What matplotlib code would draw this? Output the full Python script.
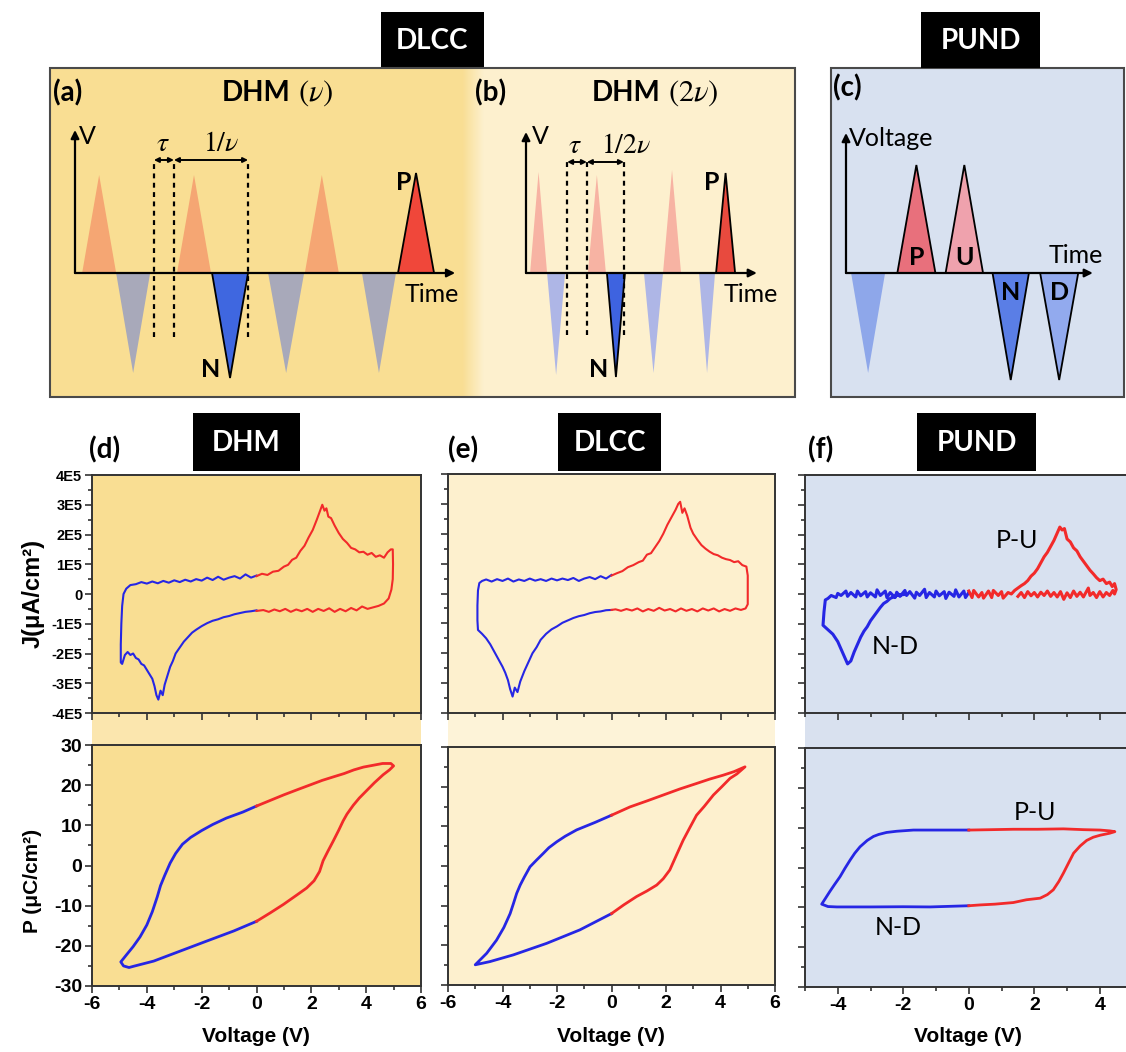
import matplotlib
matplotlib.use("Agg")
import matplotlib.pyplot as plt
import numpy as np
from matplotlib.patches import Rectangle, Polygon
from matplotlib.ticker import MultipleLocator

plt.rcParams["mathtext.fontset"] = "stix"
plt.rcParams["font.family"] = ["Liberation Sans", "DejaVu Sans"]
plt.rcParams["axes.unicode_minus"] = False

W, H = 1126, 1052
LBL = "Lato"

# ---- colours -------------------------------------------------------------
YEL = "#F9DE93"
YEL_BAND = "#FBE6AE"
CREAM = "#FDF0CE"
CREAM_BAND = "#FDF3D8"
BLUEBG = "#D8E1F0"
BLUE_BAND = "#D9E1EF"
BLUE = "#2626E4"
RED = "#F22A2A"

# ---- pulse schematics: start / width (pulse widths), peak (amplitude) ----
A_START = [0.21, 1.21, 3.00, 4.03, 5.68, 6.76, 8.44, 9.50]
A_WIDTH = [1.00, 1.00, 1.00, 1.06, 1.06, 1.00, 1.00, 1.06]
A_PEAK = [0.98, -1.00, 0.98, -1.05, -1.00, 0.98, -1.00, 1.00]
A_KIND = ["pos", "neg", "pos", "N", "neg", "pos", "neg", "P"]
A_DASH = [2.32, 2.91, 5.09]

B_START = [0.12, 0.62, 1.82, 2.38, 3.47, 4.03, 5.09, 5.59]
B_WIDTH = [0.50, 0.53, 0.53, 0.53, 0.56, 0.53, 0.47, 0.56]
B_PEAK = [1.01, -1.02, 0.98, -1.04, -1.00, 1.03, -1.00, 1.00]
B_KIND = ["pos", "neg", "pos", "N", "neg", "pos", "neg", "P"]
B_DASH = [1.21, 1.79, 2.88]

C_START = [0.15, 1.51, 2.93, 4.31, 5.71]
C_WIDTH = [1.00, 1.12, 1.10, 1.07, 1.12]
C_PEAK = [-1.00, 1.08, 1.08, -1.07, -1.07]
C_KIND = ["bg", "P", "U", "N", "D"]

A_COLORS = {"pos": "#F5A673", "neg": "#A8A9BA", "N": "#3F67E0", "P": "#F0473A"}
B_COLORS = {"pos": "#F7B3A3", "neg": "#AEB6E6", "N": "#3E63E0", "P": "#E84A3E"}
C_COLORS = {"bg": "#8EA7EA", "P": "#E8707C", "U": "#EFA2AD", "N": "#5A7EE6", "D": "#92AAEE"}

# ---- measured loops: (voltage V, J in 1E5 uA/cm2) / (voltage V, P uC/cm2) ----
D_J_BLUE = [(0.0, 0.62), (-0.2, 0.55), (-0.4, 0.66), (-0.6, 0.52), (-0.8, 0.60), (-1.0, 0.55),
            (-1.2, 0.48), (-1.4, 0.58), (-1.6, 0.47), (-1.8, 0.55), (-2.0, 0.45), (-2.2, 0.50),
            (-2.4, 0.42), (-2.6, 0.48), (-2.8, 0.40), (-3.0, 0.46), (-3.2, 0.38), (-3.4, 0.44),
            (-3.6, 0.36), (-3.8, 0.42), (-4.0, 0.35), (-4.2, 0.40), (-4.4, 0.33), (-4.6, 0.30),
            (-4.75, 0.18), (-4.85, 0.0), (-4.9, -0.4), (-4.93, -1.0), (-4.95, -1.7), (-4.95, -2.3),
            (-4.9, -2.35), (-4.8, -2.05), (-4.7, -1.95), (-4.6, -2.05), (-4.5, -2.0), (-4.4, -2.15),
            (-4.3, -2.2), (-4.2, -2.35), (-4.1, -2.4), (-4.0, -2.55), (-3.9, -2.7), (-3.8, -2.85),
            (-3.72, -3.1), (-3.65, -3.4), (-3.58, -3.55), (-3.5, -3.25), (-3.42, -3.4), (-3.35, -3.05),
            (-3.25, -2.75), (-3.15, -2.45), (-3.05, -2.25), (-2.95, -2.0), (-2.8, -1.8), (-2.65, -1.6),
            (-2.5, -1.45), (-2.35, -1.3), (-2.2, -1.2), (-2.0, -1.08), (-1.8, -0.98), (-1.6, -0.9),
            (-1.4, -0.85), (-1.2, -0.78), (-1.0, -0.74), (-0.8, -0.68), (-0.6, -0.64), (-0.4, -0.6),
            (-0.2, -0.58), (0.0, -0.55)]
D_J_RED = [(0.0, 0.60), (0.2, 0.68), (0.4, 0.64), (0.6, 0.75), (0.8, 0.78), (1.0, 0.92),
           (1.15, 0.98), (1.3, 1.15), (1.45, 1.22), (1.6, 1.45), (1.75, 1.62), (1.9, 1.9),
           (2.05, 2.15), (2.2, 2.5), (2.3, 2.75), (2.4, 3.0), (2.48, 2.8), (2.55, 2.88),
           (2.62, 2.6), (2.72, 2.55), (2.85, 2.3), (3.0, 2.05), (3.15, 1.85), (3.3, 1.72),
           (3.45, 1.55), (3.6, 1.5), (3.75, 1.4), (3.9, 1.42), (4.05, 1.32), (4.2, 1.38),
           (4.35, 1.25), (4.5, 1.3), (4.65, 1.22), (4.78, 1.4), (4.9, 1.5), (4.97, 1.5),
           (4.98, 1.0), (4.97, 0.5), (4.92, 0.15), (4.82, -0.15), (4.65, -0.32), (4.45, -0.4),
           (4.25, -0.45), (4.05, -0.5), (3.85, -0.42), (3.65, -0.55), (3.45, -0.47), (3.25, -0.58),
           (3.05, -0.5), (2.85, -0.6), (2.65, -0.48), (2.45, -0.57), (2.25, -0.5), (2.05, -0.6),
           (1.85, -0.5), (1.65, -0.58), (1.45, -0.52), (1.25, -0.6), (1.05, -0.5), (0.85, -0.58),
           (0.65, -0.52), (0.45, -0.6), (0.25, -0.54), (0.0, -0.57)]

E_J_BLUE = [(0.0, 0.62), (-0.2, 0.5), (-0.4, 0.58), (-0.6, 0.48), (-0.8, 0.55), (-1.0, 0.5),
            (-1.2, 0.42), (-1.4, 0.52), (-1.6, 0.45), (-1.8, 0.5), (-2.0, 0.44), (-2.2, 0.5),
            (-2.4, 0.42), (-2.6, 0.48), (-2.8, 0.43), (-3.0, 0.5), (-3.2, 0.42), (-3.4, 0.47),
            (-3.6, 0.4), (-3.8, 0.5), (-4.0, 0.42), (-4.2, 0.48), (-4.4, 0.4), (-4.6, 0.47),
            (-4.75, 0.42), (-4.85, 0.35), (-4.9, 0.1), (-4.92, -0.4), (-4.92, -0.9), (-4.9, -1.22),
            (-4.75, -1.35), (-4.6, -1.5), (-4.45, -1.7), (-4.3, -1.95), (-4.15, -2.2), (-4.0, -2.45),
            (-3.9, -2.65), (-3.8, -2.9), (-3.72, -3.2), (-3.63, -3.45), (-3.55, -3.15), (-3.45, -3.3),
            (-3.35, -2.95), (-3.2, -2.6), (-3.05, -2.3), (-2.9, -2.0), (-2.75, -1.8), (-2.6, -1.55),
            (-2.4, -1.35), (-2.2, -1.2), (-2.0, -1.1), (-1.8, -0.98), (-1.6, -0.9), (-1.4, -0.82),
            (-1.2, -0.76), (-1.0, -0.72), (-0.8, -0.66), (-0.6, -0.62), (-0.4, -0.6), (-0.2, -0.56),
            (0.0, -0.55)]
E_J_RED = [(0.0, 0.6), (0.2, 0.68), (0.4, 0.75), (0.6, 0.88), (0.8, 0.95), (1.0, 1.05),
           (1.15, 1.1), (1.3, 1.3), (1.45, 1.35), (1.6, 1.55), (1.75, 1.75), (1.9, 2.0),
           (2.05, 2.3), (2.2, 2.55), (2.35, 2.8), (2.45, 3.0), (2.52, 3.07), (2.6, 2.7),
           (2.68, 2.85), (2.78, 2.6), (2.9, 2.2), (3.0, 2.0), (3.15, 1.8), (3.3, 1.62),
           (3.45, 1.5), (3.6, 1.4), (3.75, 1.32), (3.9, 1.28), (4.05, 1.2), (4.2, 1.15),
           (4.35, 1.12), (4.5, 1.05), (4.65, 1.08), (4.8, 0.95), (4.95, 0.9), (5.0, 0.6),
           (5.0, 0.0), (5.0, -0.36), (4.92, -0.5), (4.75, -0.55), (4.55, -0.5), (4.35, -0.58),
           (4.15, -0.52), (3.95, -0.6), (3.75, -0.5), (3.55, -0.57), (3.35, -0.5), (3.15, -0.6),
           (2.95, -0.52), (2.75, -0.58), (2.55, -0.5), (2.35, -0.6), (2.15, -0.52), (1.95, -0.57),
           (1.75, -0.48), (1.55, -0.58), (1.35, -0.52), (1.15, -0.6), (0.95, -0.5), (0.75, -0.57),
           (0.55, -0.52), (0.35, -0.58), (0.15, -0.53), (0.0, -0.55)]

F_J_BLUE = [(0.0, 0.05), (-0.1, -0.12), (-0.15, 0.1), (-0.3, -0.1), (-0.4, 0.14), (-0.45, -0.08),
            (-0.6, 0.06), (-0.7, -0.15), (-0.75, 0.08), (-0.9, -0.06), (-1.0, 0.1), (-1.05, -0.1),
            (-1.2, 0.05), (-1.3, -0.12), (-1.35, 0.16), (-1.5, -0.05), (-1.6, 0.06), (-1.65, -0.14),
            (-1.8, 0.08), (-1.9, -0.05), (-1.95, 0.12), (-2.1, -0.08), (-2.2, 0.06), (-2.25, -0.12),
            (-2.4, 0.05), (-2.5, -0.12), (-2.55, 0.1), (-2.7, -0.05), (-2.8, 0.14), (-2.85, -0.1),
            (-3.0, 0.04), (-3.1, -0.1), (-3.15, 0.08), (-3.3, -0.06), (-3.4, 0.1), (-3.45, -0.1),
            (-3.6, 0.05), (-3.7, -0.08), (-3.75, 0.1), (-3.9, -0.05), (-4.0, 0.02), (-4.05, -0.12),
            (-4.2, -0.05), (-4.3, -0.15), (-4.38, -0.2), (-4.42, -0.6), (-4.45, -1.05), (-4.3, -1.2),
            (-4.15, -1.35), (-4.0, -1.6), (-3.9, -1.85), (-3.8, -2.1), (-3.7, -2.35), (-3.6, -2.25),
            (-3.5, -1.95), (-3.4, -1.7), (-3.3, -1.45), (-3.2, -1.25), (-3.1, -1.1), (-3.0, -0.9),
            (-2.9, -0.75), (-2.8, -0.6), (-2.7, -0.45), (-2.6, -0.32), (-2.5, -0.25), (-2.4, -0.15),
            (-2.3, -0.1), (-2.2, -0.05), (-2.0, -0.02)]
F_J_RED = [(0.0, 0.1), (0.1, -0.12), (0.15, 0.12), (0.3, -0.1), (0.4, 0.05), (0.45, -0.14),
           (0.6, 0.1), (0.7, -0.12), (0.75, 0.12), (0.9, -0.05), (1.0, 0.08), (1.05, -0.14),
           (1.2, 0.05), (1.3, 0.0), (1.4, 0.12), (1.5, 0.2), (1.6, 0.28), (1.7, 0.35),
           (1.8, 0.45), (1.9, 0.6), (2.0, 0.7), (2.1, 0.85), (2.2, 1.05), (2.3, 1.25),
           (2.4, 1.4), (2.5, 1.6), (2.6, 1.8), (2.7, 2.05), (2.78, 2.25), (2.85, 2.15),
           (2.92, 2.2), (3.0, 1.85), (3.1, 1.75), (3.2, 1.55), (3.3, 1.45), (3.4, 1.25),
           (3.5, 1.1), (3.6, 0.95), (3.7, 0.8), (3.8, 0.68), (3.9, 0.55), (4.0, 0.45),
           (4.1, 0.5), (4.2, 0.35), (4.3, 0.4), (4.38, 0.25), (4.45, 0.35), (4.5, 0.15),
           (4.45, 0.0), (4.4, 0.12), (4.3, -0.05), (4.2, 0.05), (4.1, -0.1), (4.0, 0.08),
           (3.9, -0.12), (3.8, 0.05), (3.7, -0.05), (3.65, 0.2), (3.5, -0.1), (3.4, 0.06),
           (3.3, -0.08), (3.2, 0.1), (3.1, -0.12), (3.0, 0.04), (2.9, -0.18), (2.8, 0.08),
           (2.7, -0.1), (2.6, 0.05), (2.5, -0.08), (2.4, 0.1), (2.3, -0.05), (2.2, 0.06),
           (2.1, -0.1), (2.0, 0.05), (1.9, -0.06), (1.8, 0.08), (1.7, -0.12), (1.6, 0.05),
           (1.5, -0.08)]

D_P_BLUE = [(0.0, 14.8), (-0.5, 13.3), (-1.1, 11.8), (-1.6, 10.2), (-2.0, 8.7), (-2.4, 7.0),
            (-2.7, 5.3), (-2.95, 3.0), (-3.15, 0.6), (-3.35, -2.5), (-3.5, -5.0), (-3.62, -7.8),
            (-3.8, -11.5), (-4.0, -14.8), (-4.25, -17.8), (-4.5, -20.2), (-4.75, -22.3),
            (-4.95, -24.0), (-4.85, -25.0), (-4.65, -25.4), (-4.49, -25.1), (-3.75, -23.8),
            (-2.78, -21.3), (-1.81, -18.8), (-0.83, -16.3), (0.0, -13.9)]
D_P_RED = [(0.0, 14.8), (0.5, 16.2), (1.0, 17.6), (1.5, 18.9), (1.97, 20.1), (2.4, 21.2),
           (2.82, 22.1), (3.2, 22.9), (3.55, 23.8), (3.9, 24.5), (4.29, 25.0), (4.6, 25.4),
           (4.9, 25.4), (5.0, 24.8), (4.85, 23.8), (4.62, 22.6), (4.3, 20.6), (4.01, 18.6),
           (3.75, 16.8), (3.53, 15.0), (3.3, 12.8), (3.16, 11.1), (3.0, 8.8), (2.8, 6.1),
           (2.6, 3.5), (2.43, 1.2), (2.3, -1.5), (2.1, -3.8), (1.83, -5.6), (1.46, -7.4),
           (0.98, -9.7), (0.5, -11.8), (0.0, -13.9)]

E_P_BLUE = [(0.0, 12.8), (-0.6, 11.0), (-1.28, 9.1), (-1.7, 7.5), (-2.01, 6.1), (-2.3, 4.6),
            (-2.5, 3.2), (-2.75, 1.5), (-2.99, -0.2), (-3.2, -2.8), (-3.35, -4.8), (-3.48, -6.9),
            (-3.6, -9.5), (-3.72, -12.0), (-3.95, -15.5), (-4.22, -18.7), (-4.58, -22.0),
            (-5.0, -24.9), (-4.46, -24.1), (-3.6, -22.4), (-2.38, -19.5), (-1.16, -16.1),
            (0.0, -12.0)]
E_P_RED = [(0.0, 12.8), (0.68, 14.9), (1.3, 16.4), (1.9, 17.9), (2.5, 19.4), (3.12, 20.8),
           (3.6, 21.9), (4.1, 22.9), (4.5, 23.8), (4.9, 25.0), (4.6, 23.2), (4.35, 22.1),
           (4.05, 20.0), (3.74, 17.9), (3.4, 15.0), (3.12, 12.8), (2.9, 10.0), (2.63, 6.5),
           (2.4, 3.0), (2.14, -1.0), (1.9, -3.2), (1.66, -4.8), (1.3, -6.3), (0.92, -7.7),
           (0.45, -9.8), (0.0, -12.0)]

F_P_BLUE = [(0.0, 9.4), (-0.8, 9.4), (-1.69, 9.4), (-2.2, 9.1), (-2.51, 8.8), (-2.75, 8.3),
            (-2.91, 7.8), (-3.1, 6.8), (-3.32, 5.2), (-3.48, 3.6), (-3.62, 1.9), (-3.78, -0.2),
            (-3.93, -2.3), (-4.1, -4.3), (-4.24, -6.0), (-4.38, -7.8), (-4.49, -9.2),
            (-4.3, -9.8), (-4.03, -9.9), (-3.0, -9.9), (-2.0, -9.85), (-1.18, -9.9), (0.0, -9.6)]
F_P_RED = [(0.0, 9.4), (0.7, 9.5), (1.36, 9.6), (2.1, 9.6), (2.89, 9.7), (3.5, 9.5),
           (4.01, 9.4), (4.3, 9.2), (4.46, 9.0), (4.3, 8.6), (4.01, 8.1), (3.8, 7.6),
           (3.6, 6.8), (3.4, 5.4), (3.2, 3.6), (3.05, 1.2), (2.89, -1.4), (2.75, -3.5),
           (2.58, -5.6), (2.4, -6.8), (2.18, -7.7), (1.76, -8.1), (1.36, -8.8), (0.8, -9.2),
           (0.34, -9.4), (0.0, -9.6)]

J_TICKS = [-4, -3, -2, -1, 0, 1, 2, 3, 4]
J_TICK_LABELS = ["-4E5", "-3E5", "-2E5", "-1E5", "0", "1E5", "2E5", "3E5", "4E5"]


def px_rect(x0, y0, x1, y1):
    return [x0 / W, 1 - y1 / H, (x1 - x0) / W, (y1 - y0) / H]


def fig_box(x0, y0, x1, y1, **kw):
    r = Rectangle((x0 / W, 1 - y1 / H), (x1 - x0) / W, (y1 - y0) / H,
                  transform=fig.transFigure, **kw)
    fig.add_artist(r)
    return r


def ftext(x, y, s, **kw):
    kw.setdefault("family", LBL)
    kw.setdefault("weight", "bold")
    fig.text(x / W, 1 - y / H, s, **kw)


def tag_box(x0, x1, y0, y1, s):
    fig_box(x0, y0, x1, y1, facecolor="black", edgecolor="none", zorder=3)
    ftext((x0 + x1) / 2, (y0 + y1) / 2 + 1, s, ha="center", va="center",
          color="white", fontsize=20, zorder=4)


fig = plt.figure(figsize=(W / 100, H / 100), dpi=100)

# ---- top schematics ------------------------------------------------------
fig_box(50, 68, 473, 397, facecolor=YEL, edgecolor="none", zorder=-2)
fig_box(473, 68, 795, 397, facecolor=CREAM, edgecolor="none", zorder=-2)
# soft seam between the two DHM backgrounds
seam = fig.add_axes(px_rect(462, 68, 484, 397), zorder=-1)
seam.imshow(np.linspace(0, 1, 32)[None, :], aspect="auto", extent=(0, 1, 0, 1),
            cmap=matplotlib.colors.LinearSegmentedColormap.from_list("s", [YEL, CREAM]))
seam.axis("off")
fig_box(50, 68, 795, 397, facecolor="none", edgecolor="#4a4a4a", lw=1.5, zorder=5)
fig_box(831, 68, 1124, 397, facecolor=BLUEBG, edgecolor="#4a4a4a", lw=1.5, zorder=-2)
tag_box(381, 484, 12, 68, "DLCC")
tag_box(921, 1040, 12, 68, "PUND")


def schematic(rect, t0_px, t_scale, starts, widths, peaks, kinds, colors, edged):
    x0, y0, x1, y1 = rect
    ax = fig.add_axes(px_rect(x0, y0, x1, y1))
    ax.set_xlim((x0 - t0_px) / t_scale, (x1 - t0_px) / t_scale)
    ax.set_ylim((273 - y1) / 100, (273 - y0) / 100)
    ax.axis("off")
    for s, w, p, k in zip(starts, widths, peaks, kinds):
        ax.add_patch(Polygon([(s, 0), (s + w / 2, p), (s + w, 0)], closed=True,
                             facecolor=colors[k],
                             edgecolor="black" if k in edged else "none",
                             lw=1.3, zorder=2))
    return ax


def axes_arrows(ax, vtop, tend):
    for xy in [(0, vtop), (tend, 0)]:
        ax.annotate("", xy=xy, xytext=(0, 0),
                    arrowprops=dict(arrowstyle="-|>", color="black", lw=1.6,
                                    mutation_scale=12, shrinkA=0, shrinkB=0), zorder=3)


def period_marks(ax, dash, v_arrow, v_lo, labels):
    for t in dash:
        ax.plot([t, t], [v_lo, v_arrow], color="black", lw=1.6, ls=(0, (2.2, 2.0)), zorder=3)
    for (ta, tb) in [(dash[0], dash[1]), (dash[1], dash[2])]:
        ax.annotate("", xy=(tb, v_arrow), xytext=(ta, v_arrow),
                    arrowprops=dict(arrowstyle="<|-|>", color="black", lw=1.4,
                                    mutation_scale=7, shrinkA=0, shrinkB=0), zorder=3)
    for (t, s) in labels:
        ax.text(t, v_arrow + 0.03, s, ha="center", va="bottom", fontsize=20, zorder=4)


def plain(ax, t, v, s, bold=False, **kw):
    ax.text(t, v, s, family=LBL, fontsize=18, weight="bold" if bold else "normal", **kw)


def title_pair(x_split, y, word, math):
    ftext(x_split, y, word, ha="right", va="center", fontsize=20)
    fig.text(x_split / W + 0.006, 1 - y / H, math, ha="left", va="center", fontsize=22)


# (a)
ax_a = schematic((50, 68, 473, 397), 75, 34, A_START, A_WIDTH, A_PEAK, A_KIND,
                 A_COLORS, ("N", "P"))
axes_arrows(ax_a, 1.43, 11.18)
period_marks(ax_a, A_DASH, 1.13, -0.64, [(2.6, r"$\tau$"), (4.3, r"$1/\nu$")])
plain(ax_a, 0.12, 1.36, "V", ha="left", va="center")
plain(ax_a, 9.7, -0.22, "Time", ha="left", va="center")
plain(ax_a, 9.9, 0.9, "P", bold=True, ha="right", va="center")
plain(ax_a, 4.0, -0.97, "N", bold=True, ha="center", va="center")
ftext(53, 93, "(a)", ha="left", va="center", fontsize=20)
title_pair(291, 93, "DHM", r"$(\nu)$")

# (b)
ax_b = schematic((473, 68, 795, 397), 526, 34, B_START, B_WIDTH, B_PEAK, B_KIND,
                 B_COLORS, ("N", "P"))
axes_arrows(ax_b, 1.41, 6.79)
period_marks(ax_b, B_DASH, 1.11, -0.62, [(1.45, r"$\tau$"), (2.95, r"$1/2\nu$")])
plain(ax_b, 0.18, 1.36, "V", ha="left", va="center")
plain(ax_b, 5.8, -0.22, "Time", ha="left", va="center")
plain(ax_b, 5.7, 0.9, "P", bold=True, ha="right", va="center")
plain(ax_b, 2.15, -0.97, "N", bold=True, ha="center", va="center")
ftext(475, 93, "(b)", ha="left", va="center", fontsize=20)
title_pair(661, 93, "DHM", r"$(2\nu)$")

# (c)
ax_c = schematic((831, 68, 1124, 397), 846, 34, C_START, C_WIDTH, C_PEAK, C_KIND,
                 C_COLORS, ("P", "U", "N", "D"))
axes_arrows(ax_c, 1.40, 7.26)
plain(ax_c, 0.1, 1.35, "Voltage", ha="left", va="center")
plain(ax_c, 5.95, 0.17, "Time", ha="left", va="center")
for s, w, p, k in zip(C_START, C_WIDTH, C_PEAK, C_KIND):
    if k != "bg":
        plain(ax_c, s + w / 2, 0.15 if p > 0 else -0.2, k, bold=True,
              ha="center", va="center", zorder=4)
ftext(833, 88, "(c)", ha="left", va="center", fontsize=20)


# ---- bottom loops --------------------------------------------------------
def loop_axes(x0, x1, y0, y1, bg, xlim, ylim, ymaj, ymin, ylabels, xlabels, right=True):
    ax = fig.add_axes(px_rect(x0, y0, x1, y1))
    ax.set_facecolor(bg)
    ax.set_xlim(*xlim)
    ax.set_ylim(*ylim)
    ax.xaxis.set_major_locator(MultipleLocator(2))
    ax.xaxis.set_minor_locator(MultipleLocator(1))
    ax.yaxis.set_major_locator(MultipleLocator(ymaj))
    ax.yaxis.set_minor_locator(MultipleLocator(ymin))
    for sp in ax.spines.values():
        sp.set_color("#333333")
        sp.set_linewidth(1.4)
    ax.spines["right"].set_visible(right)
    ax.tick_params(which="both", direction="out", color="#333333", width=1.2,
                   labelleft=ylabels, labelbottom=xlabels, labelsize=14, pad=2)
    ax.tick_params(which="major", length=5)
    ax.tick_params(which="minor", length=3)
    for lbl in ax.get_xticklabels() + ax.get_yticklabels():
        lbl.set_fontweight("bold")
    return ax


def curve(ax, pts, color, lw):
    v, y = np.array(pts).T
    ax.plot(v, y, color=color, lw=lw, solid_joinstyle="round", zorder=3)


columns = [
    dict(x0=92, x1=421, jy=(475, 713), py=(745, 986), bg=YEL, band=YEL_BAND,
         xlim=(-6, 6), ylab=True, right=True,
         jb=D_J_BLUE, jr=D_J_RED, pb=D_P_BLUE, pr=D_P_RED, jlw=1.5,
         tag=(193, 300, "DHM"), panel="(d)", plx=89, vx=256),
    dict(x0=448, x1=775, jy=(474, 713), py=(747, 985), bg=CREAM, band=CREAM_BAND,
         xlim=(-6, 6), ylab=False, right=True,
         jb=E_J_BLUE, jr=E_J_RED, pb=E_P_BLUE, pr=E_P_RED, jlw=1.5,
         tag=(558, 661, "DLCC"), panel="(e)", plx=448, vx=611),
    dict(x0=805, x1=1126, jy=(475, 713), py=(748, 987), bg=BLUEBG, band=BLUE_BAND,
         xlim=(-5, 4.8), ylab=False, right=False,
         jb=F_J_BLUE, jr=F_J_RED, pb=F_P_BLUE, pr=F_P_RED, jlw=2.2,
         tag=(917, 1036, "PUND"), panel="(f)", plx=808, vx=968),
]

for c in columns:
    fig_box(c["x0"], c["jy"][1], c["x1"], c["py"][0], facecolor=c["band"],
            edgecolor="none", zorder=-2)
    axj = loop_axes(c["x0"], c["x1"], c["jy"][0], c["jy"][1], c["bg"], c["xlim"], (-4, 4),
                    1, 0.5, c["ylab"], False, c["right"])
    axj.set_yticks(J_TICKS)
    axj.set_yticklabels(J_TICK_LABELS, fontweight="bold")
    axj.tick_params(axis="y", labelsize=10.5)
    curve(axj, c["jb"], BLUE, c["jlw"])
    curve(axj, c["jr"], RED, c["jlw"])

    axp = loop_axes(c["x0"], c["x1"], c["py"][0], c["py"][1], c["bg"], c["xlim"], (-30, 30),
                    10, 5, c["ylab"], True, c["right"])
    curve(axp, c["pb"], BLUE, 2.0)
    curve(axp, c["pr"], RED, 2.0)

    tx0, tx1, tname = c["tag"]
    tag_box(tx0, tx1, 413, 471, tname)
    ftext(c["plx"], 450, c["panel"], ha="left", va="center", fontsize=20)
    fig.text(c["vx"] / W, 1 - 1037 / H, "Voltage (V)", ha="center", va="center",
             fontsize=15, weight="bold")
    if c["panel"] == "(f)":
        plain(axj, 1.47, 1.8, "P-U", ha="center", va="center")
        plain(axj, -2.25, -1.78, "N-D", ha="center", va="center")
        plain(axp, 2.03, 13.9, "P-U", ha="center", va="center")
        plain(axp, -2.15, -15.0, "N-D", ha="center", va="center")

fig.text(33 / W, 1 - 593 / H, "J(μA/cm²)", rotation=90, ha="center", va="center",
         fontsize=17, weight="bold")
fig.text(33 / W, 1 - 881 / H, "P (μC/cm²)", rotation=90, ha="center", va="center",
         fontsize=15, weight="bold")

fig.savefig("out.png", dpi=100)
